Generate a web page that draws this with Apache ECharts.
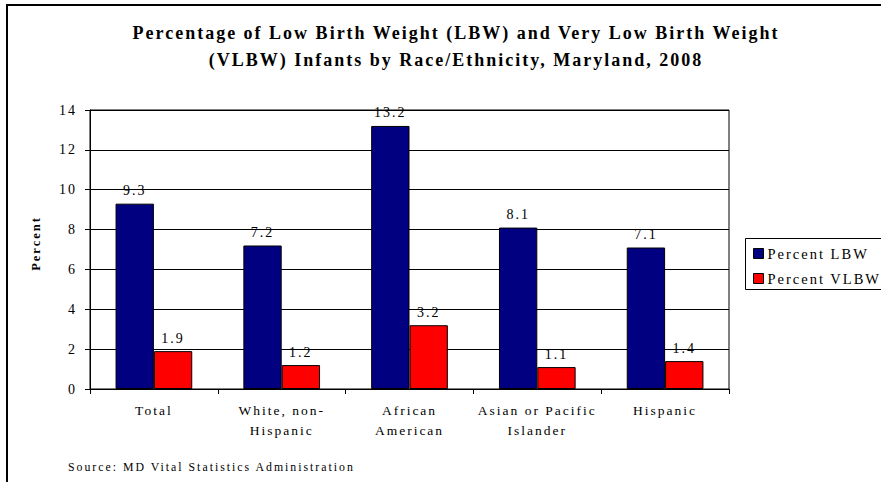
<!DOCTYPE html>
<html>
<head>
<meta charset="utf-8">
<script src="https://cdn.jsdelivr.net/npm/echarts@6/dist/echarts.min.js"></script>
<style>
html,body{margin:0;padding:0;background:#fff;}
#c{width:881px;height:482px;}
#c svg text{letter-spacing:2px;}
</style>
</head>
<body>
<div id="c"></div>
<script>
var categories = ['Total', 'White, non-\nHispanic', 'African\nAmerican', 'Asian or Pacific\nIslander', 'Hispanic'];
var lbw = [9.3, 7.2, 13.2, 8.1, 7.1];
var vlbw = [1.9, 1.2, 3.2, 1.1, 1.4];
var seriesNames = ['Percent LBW', 'Percent VLBW'];
var yTicks = [0, 2, 4, 6, 8, 10, 12, 14];

var serif = '"Liberation Serif", "Times New Roman", serif';
var chart = echarts.init(document.getElementById('c'), null, {renderer: 'svg'});
var labelStyle = {
  show: true, position: 'top', distance: 6,
  color: '#000', fontFamily: serif, fontSize: 14,
  formatter: function (p) { return p.value.toFixed(1); }
};
chart.setOption({
  animation: false,
  backgroundColor: '#fff',
  title: {
    text: 'Percentage of Low Birth Weight (LBW) and Very Low Birth Weight\n(VLBW) Infants by Race/Ethnicity, Maryland, 2008',
    left: 451, top: 14, textAlign: 'center',
    textStyle: {fontFamily: serif, fontWeight: 'bold', fontSize: 18, lineHeight: 27, color: '#000'}
  },
  legend: {
    data: seriesNames,
    orient: 'vertical',
    left: 753, top: 246, padding: 0,
    itemWidth: 10, itemHeight: 10, itemGap: 10,
    icon: 'rect',
    textStyle: {fontFamily: serif, fontSize: 14.5, color: '#000', padding: [0, 0, 0, -1]},
    itemStyle: {borderColor: '#000', borderWidth: 1}
  },
  grid: {left: 90, top: 110, right: 152, bottom: 93, show: true, borderColor: '#000', borderWidth: 1, backgroundColor: 'transparent'},
  xAxis: {
    type: 'category', data: categories,
    axisLine: {lineStyle: {color: '#000', width: 1}},
    axisTick: {show: true, length: 5, lineStyle: {color: '#000'}, alignWithLabel: false},
    axisLabel: {fontFamily: serif, fontSize: 13.5, color: '#000', lineHeight: 20, margin: 11, interval: 0}
  },
  yAxis: {
    type: 'value', min: yTicks[0], max: yTicks[yTicks.length - 1], interval: 2,
    name: 'Percent', nameLocation: 'middle', nameGap: 48, nameRotate: 90,
    nameTextStyle: {fontFamily: serif, fontWeight: 'bold', fontSize: 12.5, color: '#000', padding: [0, 0, 0, 12]},
    axisLine: {show: true, lineStyle: {color: '#000'}},
    axisTick: {show: true, length: 5, lineStyle: {color: '#000'}},
    axisLabel: {fontFamily: serif, fontSize: 14, color: '#000', margin: 13},
    splitLine: {show: true, lineStyle: {color: '#000', width: 1}}
  },
  series: [
    {name: seriesNames[0], type: 'bar', data: lbw, barWidth: '30%', barGap: '0%',
     itemStyle: {color: '#000080', borderColor: '#000', borderWidth: 1}, label: labelStyle},
    {name: seriesNames[1], type: 'bar', data: vlbw, barWidth: '30%', barGap: '0%',
     itemStyle: {color: '#FF0000', borderColor: '#000', borderWidth: 1}, label: labelStyle}
  ],
  graphic: [
    {type: 'rect', shape: {x: 7, y: 5, width: 900, height: 500}, style: {fill: 'none', stroke: '#000', lineWidth: 2}, silent: true},
    {type: 'rect', shape: {x: 745.5, y: 238.5, width: 200, height: 51}, style: {fill: 'none', stroke: '#000', lineWidth: 1}, silent: true},
    {type: 'text', left: 68, top: 461, style: {text: 'Source: MD Vital Statistics Administration', font: '11.8px ' + serif, fill: '#000'}}
  ]
});
</script>
</body>
</html>
